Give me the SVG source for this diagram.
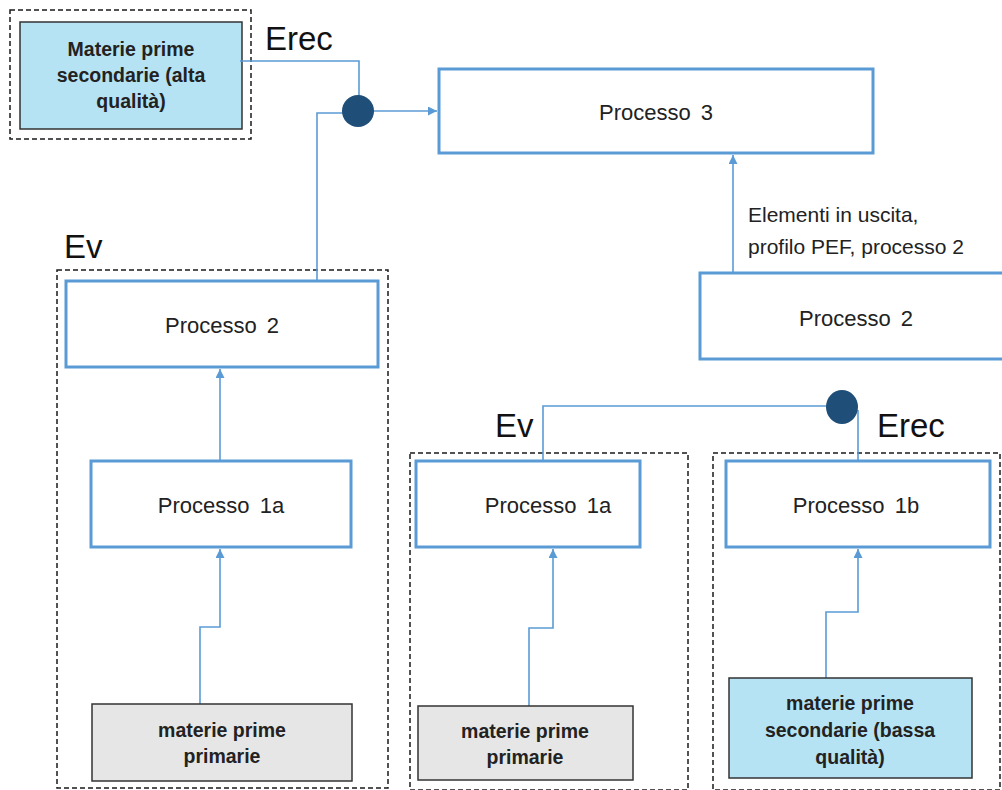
<svg xmlns="http://www.w3.org/2000/svg" width="1002" height="790" viewBox="0 0 1002 790">
<defs>
<marker id="arr" viewBox="0 0 10 10" refX="10" refY="5" markerWidth="10" markerHeight="9" markerUnits="userSpaceOnUse" orient="auto">
<path d="M0,0 L10,5 L0,10 z" fill="#5b9bd5"/>
</marker>
<style>
.dash{fill:none;stroke:#1a1a1a;stroke-width:1.5;stroke-dasharray:5,3}
.proc{fill:#fff;stroke:#5b9bd5;stroke-width:3}
.mat{stroke:#333;stroke-width:1.5}
.grey{fill:#e6e6e6}
.blue{fill:#b6e3f3}
.conn{fill:none;stroke:#5b9bd5;stroke-width:1.6}
.pt{font-family:"Liberation Sans",Arial,sans-serif;font-size:22px;fill:#222;text-anchor:middle;word-spacing:4px}
.bt{font-family:"Liberation Sans",Arial,sans-serif;font-size:19.5px;font-weight:bold;fill:#222;text-anchor:middle}
.lab{font-family:"Liberation Sans",Arial,sans-serif;font-size:33px;fill:#111}
.note{font-family:"Liberation Sans",Arial,sans-serif;font-size:21px;fill:#222}
.dot{fill:#1f4e79}
</style>
</defs>
<rect width="1002" height="790" fill="#fff"/>

<g id="group-erec-top">
<rect class="dash" x="10" y="10" width="241" height="129"/>
<text class="lab" x="265" y="50">Erec</text>
</g>
<g id="node-mps-alta">
<rect class="mat blue" x="20" y="22" width="222" height="107"/>
<text class="bt" x="131" y="56">Materie prime</text>
<text class="bt" x="131" y="82">secondarie (alta</text>
<text class="bt" x="131" y="108">qualità)</text>
</g>

<g id="group-ev-left">
<rect class="dash" x="57" y="270" width="331" height="518"/>
<text class="lab" x="64" y="258">Ev</text>
</g>
<g id="group-ev-mid">
<rect class="dash" x="410" y="453" width="278" height="337"/>
<text class="lab" x="495" y="437">Ev</text>
</g>
<g id="group-erec-right">
<rect class="dash" x="713" y="453" width="287" height="337"/>
<text class="lab" x="877" y="437">Erec</text>
</g>

<g id="connectors">
<polyline class="conn" points="240,61 359,61 359,96"/>
<line class="conn" x1="374" y1="111" x2="437" y2="111" marker-end="url(#arr)"/>
<polyline class="conn" points="343,113 317,113 317,280"/>
<line class="conn" x1="733" y1="272" x2="733" y2="155" marker-end="url(#arr)"/>
<line class="conn" x1="220" y1="460" x2="220" y2="369" marker-end="url(#arr)"/>
<polyline class="conn" points="200,704 200,627 220,627 220,549" marker-end="url(#arr)"/>
<polyline class="conn" points="543,460 543,406 826,406"/>
<polyline class="conn" points="858,410 858,460"/>
<polyline class="conn" points="529,706 529,628 553,628 553,549" marker-end="url(#arr)"/>
<polyline class="conn" points="826,678 826,612 858,612 858,549" marker-end="url(#arr)"/>
<circle class="dot" cx="358" cy="111" r="16"/>
<ellipse class="dot" cx="842" cy="407" rx="16" ry="17"/>
</g>

<g id="node-processo3">
<rect class="proc" x="439" y="69" width="434" height="84"/>
<text class="pt" x="656" y="120">Processo 3</text>
</g>
<g id="label-elementi">
<text class="note" x="748" y="222">Elementi in uscita,</text>
<text class="note" x="748" y="254">profilo PEF, processo 2</text>
</g>
<g id="node-processo2-right">
<rect class="proc" x="700" y="273" width="310" height="86"/>
<text class="pt" x="856" y="326">Processo 2</text>
</g>
<g id="node-processo2-left">
<rect class="proc" x="66" y="281" width="312" height="86"/>
<text class="pt" x="222" y="333">Processo 2</text>
</g>
<g id="node-processo1a-left">
<rect class="proc" x="91" y="461" width="260" height="86"/>
<text class="pt" x="221" y="513">Processo 1a</text>
</g>
<g id="node-mpp-left">
<rect class="mat grey" x="92" y="704" width="260" height="77"/>
<text class="bt" x="222" y="737">materie prime</text>
<text class="bt" x="222" y="763">primarie</text>
</g>
<g id="node-processo1a-mid">
<rect class="proc" x="416" y="461" width="224" height="86"/>
<text class="pt" x="548" y="513">Processo 1a</text>
</g>
<g id="node-mpp-mid">
<rect class="mat grey" x="418" y="706" width="215" height="74"/>
<text class="bt" x="525" y="738">materie prime</text>
<text class="bt" x="525" y="764">primarie</text>
</g>
<g id="node-processo1b">
<rect class="proc" x="726" y="461" width="264" height="86"/>
<text class="pt" x="856" y="513">Processo 1b</text>
</g>
<g id="node-mps-bassa">
<rect class="mat blue" x="729" y="678" width="243" height="100"/>
<text class="bt" x="850" y="710">materie prime</text>
<text class="bt" x="850" y="737">secondarie (bassa</text>
<text class="bt" x="850" y="764">qualità)</text>
</g>
</svg>
